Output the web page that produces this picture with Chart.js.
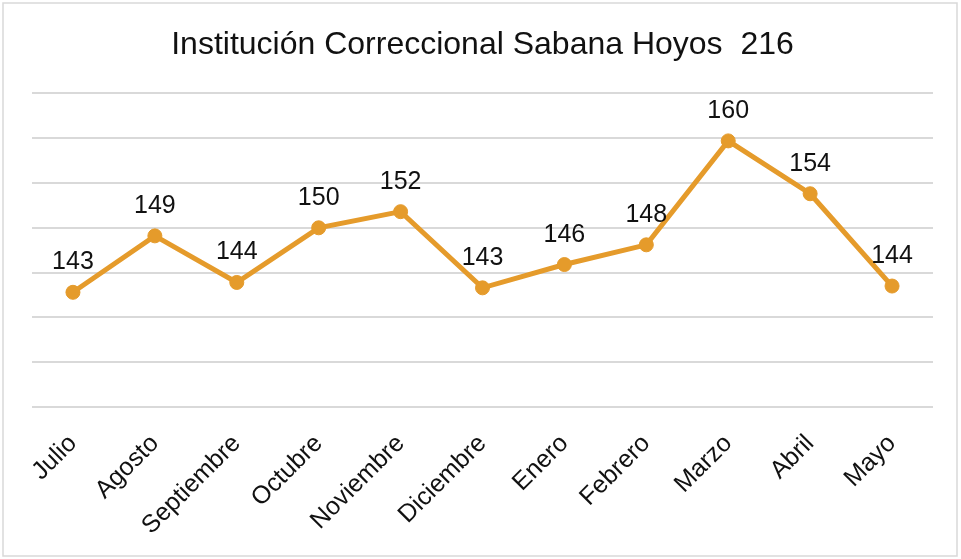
<!DOCTYPE html>
<html lang="es">
<head>
    <meta charset="UTF-8">
    <title>Institución Correccional Sabana Hoyos 216</title>
    <script src="https://cdn.jsdelivr.net/npm/chart.js"></script>
    <style>
        html, body { margin: 0; padding: 0; background: #fff; }
        .wrap { width: 961px; height: 559px; }
    </style>
</head>
<body>
    <div class="wrap"><canvas id="chart"></canvas></div>

    <script>
        const meses = ['Julio', 'Agosto', 'Septiembre', 'Octubre', 'Noviembre', 'Diciembre',
                       'Enero', 'Febrero', 'Marzo', 'Abril', 'Mayo'];
        // poblacion promedio por mes (la etiqueta muestra el valor redondeado)
        const poblacion = [142.8, 149.1, 143.9, 150.0, 151.8, 143.3, 145.9, 148.1, 159.7, 153.8, 143.5];
        const escalaY = { min: 130, max: 165, paso: 5 };

        const fuente = "'Liberation Sans', Arial, sans-serif";
        const colorLinea = '#e59b2b';

        // marco gris alrededor del grafico
        const marco = {
            id: 'marco',
            beforeDraw(chart) {
                const ctx = chart.ctx;
                ctx.save();
                ctx.fillStyle = '#fff';
                ctx.fillRect(0, 0, chart.width, chart.height);
                ctx.strokeStyle = '#d9d9d9';
                ctx.lineWidth = 1.5;
                ctx.strokeRect(3, 3, chart.width - 7, chart.height - 6);
                ctx.restore();
            }
        };

        // etiquetas de datos encima de cada punto
        const etiquetas = {
            id: 'etiquetas',
            afterDatasetsDraw(chart) {
                const ctx = chart.ctx;
                const meta = chart.getDatasetMeta(0);
                ctx.save();
                ctx.font = '25px ' + fuente;
                ctx.fillStyle = '#111';
                ctx.textAlign = 'center';
                ctx.textBaseline = 'alphabetic';
                meta.data.forEach((pt, i) => {
                    ctx.fillText(String(Math.round(poblacion[i])), pt.x, pt.y - 23);
                });
                ctx.restore();
            }
        };

        new Chart(document.getElementById('chart'), {
            type: 'line',
            data: {
                labels: meses,
                datasets: [{
                    data: poblacion,
                    borderColor: colorLinea,
                    backgroundColor: colorLinea,
                    borderWidth: 5,
                    pointRadius: 7,
                    pointBorderWidth: 1,
                    pointBackgroundColor: colorLinea,
                    pointBorderColor: colorLinea,
                    tension: 0,
                    fill: false
                }]
            },
            options: {
                responsive: true,
                maintainAspectRatio: false,
                animation: false,
                layout: { padding: { left: 32, right: 28, top: 26, bottom: 2 } },
                plugins: {
                    legend: { display: false },
                    tooltip: { enabled: false },
                    title: {
                        display: true,
                        text: 'Institución Correccional Sabana Hoyos  216',
                        color: '#111',
                        font: { family: fuente, size: 32, weight: 'normal' },
                        padding: { top: 0, bottom: 29 }
                    }
                },
                scales: {
                    x: {
                        offset: true,
                        grid: { display: false },
                        border: { display: false },
                        ticks: {
                            color: '#111',
                            font: { family: fuente, size: 25 },
                            minRotation: 45,
                            maxRotation: 45,
                            padding: 14,
                            autoSkip: false
                        },
                        afterFit(scale) { scale.height = 150; }
                    },
                    y: {
                        min: escalaY.min,
                        max: escalaY.max,
                        border: { display: false },
                        grid: { color: '#d9d9d9', lineWidth: 2, drawTicks: false },
                        ticks: { display: false, stepSize: escalaY.paso },
                        afterFit(scale) { scale.width = 0; }
                    }
                }
            },
            plugins: [marco, etiquetas]
        });
    </script>
</body>
</html>
